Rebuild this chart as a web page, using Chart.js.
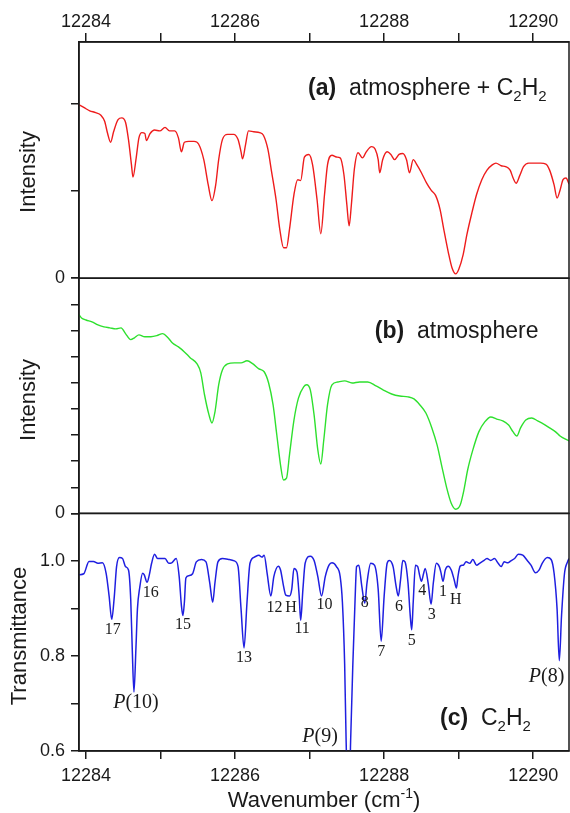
<!DOCTYPE html>
<html>
<head>
<meta charset="utf-8">
<script src="https://cdn.jsdelivr.net/npm/chart.js@4.4.1/dist/chart.umd.min.js"></script>
<style>
  html, body { margin: 0; padding: 0; background: #fff; }
  #wrap { width: 570px; height: 813px; }
</style>
</head>
<body>
<div id="wrap"><canvas id="spectra" width="570" height="813"></canvas></div>
<script>
const wnMin = 12283.906;
const wnMax = 12290.48;
const wnTicks = [12284, 12285, 12286, 12287, 12288, 12289, 12290];
const panelATicks = [0, 1, 2];
const panelBTicks = [0, 1, 2, 3, 4, 5, 6, 7, 8, 9];
const panelCTicks = [0.6, 0.7, 0.8, 0.9, 1.0, 1.1];

// (a) atmosphere + C2H2
const atmC2h2Wn = [12283.906, 12283.97, 12284.05, 12284.13, 12284.20, 12284.25, 12284.29, 12284.33, 12284.37, 12284.43,
  12284.48, 12284.53, 12284.57, 12284.61, 12284.63, 12284.67, 12284.71, 12284.75, 12284.79, 12284.81,
  12284.86, 12284.92, 12284.99, 12285.06, 12285.12, 12285.19, 12285.24, 12285.28, 12285.32, 12285.38,
  12285.45, 12285.51, 12285.58, 12285.64, 12285.69, 12285.74, 12285.78, 12285.83, 12285.90, 12285.98,
  12286.04, 12286.08, 12286.10, 12286.14, 12286.18, 12286.25, 12286.33, 12286.38, 12286.44, 12286.49,
  12286.55, 12286.60, 12286.65, 12286.69, 12286.73, 12286.79, 12286.84, 12286.88, 12286.93, 12286.99,
  12287.04, 12287.10, 12287.15, 12287.20, 12287.24, 12287.30, 12287.36, 12287.41, 12287.46, 12287.50,
  12287.53, 12287.56, 12287.60, 12287.65, 12287.71, 12287.76, 12287.83, 12287.88, 12287.92, 12287.94,
  12287.98, 12288.04, 12288.09, 12288.14, 12288.20, 12288.25, 12288.30, 12288.34, 12288.39, 12288.44,
  12288.50, 12288.57, 12288.63, 12288.69, 12288.75, 12288.80, 12288.86, 12288.91, 12288.96, 12289.00,
  12289.06, 12289.11, 12289.18, 12289.24, 12289.31, 12289.38, 12289.45, 12289.50, 12289.57, 12289.63,
  12289.69, 12289.73, 12289.77, 12289.82, 12289.87, 12289.94, 12290.02, 12290.10, 12290.17, 12290.22,
  12290.28, 12290.32, 12290.36, 12290.40, 12290.44, 12290.48];
const atmC2h2Int = [1.99, 1.96, 1.92, 1.90, 1.87, 1.80, 1.66, 1.56, 1.68, 1.82,
  1.84, 1.79, 1.59, 1.30, 1.16, 1.36, 1.61, 1.67, 1.66, 1.58,
  1.66, 1.70, 1.69, 1.73, 1.69, 1.69, 1.61, 1.45, 1.56, 1.57,
  1.57, 1.54, 1.36, 1.07, 0.89, 1.07, 1.36, 1.59, 1.65, 1.65,
  1.59, 1.45, 1.37, 1.53, 1.69, 1.68, 1.67, 1.64, 1.48, 1.22,
  0.90, 0.56, 0.35, 0.35, 0.56, 0.96, 1.13, 1.12, 1.39, 1.42,
  1.30, 0.90, 0.51, 0.96, 1.30, 1.41, 1.39, 1.38, 1.19, 0.84,
  0.60, 0.84, 1.25, 1.44, 1.38, 1.45, 1.51, 1.48, 1.36, 1.21,
  1.36, 1.45, 1.42, 1.36, 1.42, 1.43, 1.36, 1.21, 1.36, 1.30,
  1.21, 1.09, 1.01, 0.95, 0.79, 0.56, 0.30, 0.12, 0.05, 0.10,
  0.27, 0.50, 0.76, 0.96, 1.13, 1.24, 1.30, 1.32, 1.29, 1.28,
  1.24, 1.15, 1.09, 1.18, 1.28, 1.32, 1.32, 1.32, 1.31, 1.24,
  1.07, 0.92, 1.01, 1.13, 1.15, 1.08];

// (b) atmosphere
const atmWn = [12283.906, 12283.94, 12284.00, 12284.08, 12284.16, 12284.24, 12284.32, 12284.40, 12284.47, 12284.53,
  12284.60, 12284.65, 12284.71, 12284.79, 12284.87, 12284.95, 12285.03, 12285.10, 12285.16, 12285.24,
  12285.32, 12285.40, 12285.49, 12285.54, 12285.59, 12285.65, 12285.69, 12285.73, 12285.78, 12285.83,
  12285.90, 12285.99, 12286.08, 12286.16, 12286.24, 12286.32, 12286.39, 12286.45, 12286.51, 12286.56,
  12286.61, 12286.65, 12286.69, 12286.73, 12286.79, 12286.85, 12286.92, 12286.96, 12287.01, 12287.06,
  12287.11, 12287.15, 12287.19, 12287.24, 12287.30, 12287.38, 12287.47, 12287.57, 12287.67, 12287.78,
  12287.89, 12287.99, 12288.10, 12288.21, 12288.32, 12288.40, 12288.48, 12288.56, 12288.64, 12288.71,
  12288.77, 12288.84, 12288.90, 12288.96, 12289.02, 12289.07, 12289.12, 12289.19, 12289.27, 12289.35,
  12289.43, 12289.51, 12289.59, 12289.67, 12289.73, 12289.78, 12289.83, 12289.90, 12289.98, 12290.06,
  12290.14, 12290.22, 12290.30, 12290.36, 12290.48];
const atmInt = [7.60, 7.48, 7.40, 7.33, 7.21, 7.14, 7.10, 7.06, 7.10, 6.88,
  6.65, 6.72, 6.83, 6.76, 6.76, 6.80, 6.88, 6.72, 6.52, 6.37,
  6.18, 5.95, 5.72, 5.38, 4.54, 3.77, 3.46, 3.88, 4.92, 5.49,
  5.72, 5.76, 5.76, 5.84, 5.72, 5.53, 5.42, 4.99, 4.15, 3.00,
  1.85, 1.28, 1.35, 2.24, 3.57, 4.41, 4.84, 4.92, 4.72, 3.77,
  2.43, 1.89, 2.81, 4.15, 4.92, 5.03, 5.07, 4.99, 5.03, 5.03,
  4.88, 4.72, 4.57, 4.49, 4.46, 4.38, 4.15, 3.84, 3.27, 2.62,
  1.85, 0.97, 0.39, 0.16, 0.32, 0.89, 1.66, 2.43, 3.12, 3.50,
  3.69, 3.61, 3.54, 3.38, 3.12, 2.96, 3.27, 3.57, 3.65, 3.54,
  3.42, 3.27, 3.12, 2.96, 2.77];

// (c) C2H2 transmittance
const c2h2Wn = [12283.906, 12283.97, 12284.04, 12284.10, 12284.16, 12284.22, 12284.27, 12284.31, 12284.345, 12284.38,
  12284.41, 12284.45, 12284.49, 12284.53, 12284.57, 12284.60, 12284.62, 12284.643, 12284.67, 12284.69,
  12284.72, 12284.76, 12284.78, 12284.82, 12284.85, 12284.88, 12284.92, 12284.96, 12285.01, 12285.06,
  12285.11, 12285.15, 12285.21, 12285.25, 12285.28, 12285.30, 12285.32, 12285.34, 12285.38, 12285.43,
  12285.48, 12285.55, 12285.61, 12285.66, 12285.70, 12285.73, 12285.77, 12285.83, 12285.92, 12285.99,
  12286.04, 12286.08, 12286.12, 12286.16, 12286.20, 12286.26, 12286.32, 12286.36, 12286.39, 12286.43,
  12286.48, 12286.52, 12286.58, 12286.61, 12286.65, 12286.68, 12286.73, 12286.76, 12286.79, 12286.83,
  12286.86, 12286.88, 12286.91, 12286.94, 12287.01, 12287.06, 12287.11, 12287.16, 12287.21, 12287.26,
  12287.30, 12287.36, 12287.41, 12287.44, 12287.47, 12287.49, 12287.525, 12287.55, 12287.58, 12287.61,
  12287.63, 12287.66, 12287.70, 12287.74, 12287.77, 12287.82, 12287.87, 12287.92, 12287.96, 12288.00,
  12288.04, 12288.07, 12288.12, 12288.16, 12288.19, 12288.22, 12288.25, 12288.28, 12288.32, 12288.35,
  12288.37, 12288.39, 12288.42, 12288.45, 12288.48, 12288.50, 12288.53, 12288.55, 12288.59, 12288.63,
  12288.66, 12288.70, 12288.74, 12288.76, 12288.79, 12288.82, 12288.86, 12288.90, 12288.94, 12288.97,
  12288.99, 12289.02, 12289.06, 12289.10, 12289.15, 12289.19, 12289.24, 12289.28, 12289.33, 12289.38,
  12289.43, 12289.48, 12289.53, 12289.57, 12289.61, 12289.66, 12289.70, 12289.75, 12289.80, 12289.86,
  12289.92, 12289.97, 12290.03, 12290.08, 12290.12, 12290.19, 12290.24, 12290.28, 12290.32, 12290.35,
  12290.38, 12290.42, 12290.46, 12290.48];
const c2h2Trans = [0.971, 0.973, 0.999, 0.999, 0.995, 0.996, 0.974, 0.926, 0.877, 0.926,
  0.988, 1.007, 1.005, 0.988, 0.981, 0.919, 0.817, 0.724, 0.817, 0.899,
  0.943, 0.974, 0.971, 0.955, 0.971, 0.995, 1.014, 1.005, 1.005, 1.005,
  0.995, 0.996, 1.005, 0.967, 0.906, 0.885, 0.913, 0.964, 0.969, 0.973,
  0.998, 1.003, 0.998, 0.954, 0.913, 0.954, 0.998, 1.005, 1.003, 1.000,
  0.988, 0.899, 0.817, 0.913, 0.995, 1.008, 1.012, 1.008, 1.012, 0.974,
  0.926, 0.967, 0.989, 0.981, 0.947, 0.928, 0.926, 0.940, 0.984, 0.977,
  0.926, 0.875, 0.940, 0.995, 1.010, 1.001, 0.967, 0.926, 0.967, 0.991,
  0.996, 0.988, 0.967, 0.913, 0.783, 0.620, 0.450, 0.620, 0.783, 0.919,
  0.988, 0.991, 0.947, 0.911, 0.954, 0.995, 0.991, 0.940, 0.831, 0.926,
  0.995, 1.001, 0.988, 0.947, 0.926, 0.960, 1.001, 0.998, 0.954, 0.885,
  0.855, 0.913, 0.991, 0.988, 0.967, 0.957, 0.974, 0.984, 0.954, 0.909,
  0.954, 0.995, 0.988, 0.977, 0.957, 0.981, 0.989, 0.981, 0.960, 0.943,
  0.967, 0.989, 0.991, 0.998, 0.995, 1.003, 0.991, 0.995, 1.000, 1.005,
  1.001, 1.005, 0.995, 0.988, 0.998, 0.996, 1.000, 1.005, 1.014, 1.012,
  1.001, 0.991, 0.975, 0.981, 0.995, 1.007, 1.003, 0.974, 0.899, 0.790,
  0.885, 0.974, 0.998, 1.005];

// line labels in panel (c)
const lineLabels = ['17', '16', '15', '13', '12', 'H', '11', '10', '8', '7', '6', '5', '4', '3', '1', 'H'];
const lineLabelWn = [12284.36, 12284.87, 12285.30, 12286.12, 12286.53, 12286.75, 12286.90, 12287.20, 12287.74, 12287.96,
  12288.20, 12288.37, 12288.51, 12288.64, 12288.79, 12288.96];
const lineLabelT = [0.855, 0.932, 0.866, 0.797, 0.902, 0.902, 0.858, 0.907, 0.911, 0.808,
  0.904, 0.831, 0.937, 0.887, 0.934, 0.919];

const branchLabels = ['10', '9', '8'];
const branchWn = [12284.67, 12287.14, 12290.18];
const branchT = [0.702, 0.629, 0.757];

const SANS = '"Liberation Sans", Arial, sans-serif';
const SERIF = '"Liberation Serif", "Times New Roman", serif';
const INK = '#1a1a1a';

function toPoints(xs, ys) {
    return xs.map((x, i) => ({ x, y: ys[i] }));
}

function drawRuns(ctx, x, y, runs) {
    let cx = x;
    runs.forEach(r => {
        ctx.font = r.font;
        ctx.fillText(r.text, cx, y + (r.dy || 0));
        cx += ctx.measureText(r.text).width;
    });
}

const decor = {
    id: 'decor',
    afterDraw(chart) {
        const { ctx, chartArea, scales } = chart;
        const { x, ya, yb, yc } = scales;
        ctx.save();

        // panel frames
        ctx.strokeStyle = INK;
        ctx.lineWidth = 1.5;
        [ya, yb, yc].forEach(s => {
            ctx.strokeRect(chartArea.left, s.top, chartArea.right - chartArea.left, s.bottom - s.top);
        });

        ctx.fillStyle = INK;
        ctx.textBaseline = 'alphabetic';
        ctx.textAlign = 'left';

        // panel captions
        const big = `23px ${SANS}`;
        const bold = `bold 23px ${SANS}`;
        const sub = `15px ${SANS}`;
        drawRuns(ctx, x.getPixelForValue(12286.98), ya.getPixelForValue(2.19) + 8, [
            { text: '(a)', font: bold }, { text: '  atmosphere + C', font: big },
            { text: '2', font: sub, dy: 6 }, { text: 'H', font: big }, { text: '2', font: sub, dy: 6 },
        ]);
        drawRuns(ctx, x.getPixelForValue(12287.875), yb.getPixelForValue(7.02) + 8, [
            { text: '(b)', font: bold }, { text: '  atmosphere', font: big },
        ]);
        drawRuns(ctx, x.getPixelForValue(12288.75), yc.getPixelForValue(0.671) + 8, [
            { text: '(c)', font: bold }, { text: '  C', font: big },
            { text: '2', font: sub, dy: 6 }, { text: 'H', font: big }, { text: '2', font: sub, dy: 6 },
        ]);

        // line labels
        ctx.textAlign = 'center';
        ctx.textBaseline = 'middle';
        ctx.font = `16px ${SERIF}`;
        lineLabels.forEach((t, i) => {
            ctx.fillText(t, x.getPixelForValue(lineLabelWn[i]), yc.getPixelForValue(lineLabelT[i]));
        });
        branchLabels.forEach((t, i) => {
            const cx = x.getPixelForValue(branchWn[i]);
            const cy = yc.getPixelForValue(branchT[i]);
            ctx.font = `italic 20px ${SERIF}`;
            const wP = ctx.measureText('P').width;
            ctx.font = `20px ${SERIF}`;
            const wR = ctx.measureText(`(${t})`).width;
            const left = cx - (wP + wR) / 2;
            ctx.textAlign = 'left';
            ctx.font = `italic 20px ${SERIF}`;
            ctx.fillText('P', left, cy);
            ctx.font = `20px ${SERIF}`;
            ctx.fillText(`(${t})`, left + wP, cy);
        });

        // axis titles
        ctx.font = `22px ${SANS}`;
        ctx.textAlign = 'center';
        ctx.textBaseline = 'middle';
        const vTitle = (text, cx, cy) => {
            ctx.save();
            ctx.translate(cx, cy);
            ctx.rotate(-Math.PI / 2);
            ctx.fillText(text, 0, 0);
            ctx.restore();
        };
        vTitle('Intensity', 29, 172);
        vTitle('Intensity', 29, 400);
        vTitle('Transmittance', 20, 636);

        // x title with superscript
        ctx.textAlign = 'left';
        ctx.textBaseline = 'alphabetic';
        const main1 = 'Wavenumber (cm';
        const sup = '-1';
        ctx.font = `22px ${SANS}`;
        const w1 = ctx.measureText(main1).width;
        const w3 = ctx.measureText(')').width;
        ctx.font = `14px ${SANS}`;
        const w2 = ctx.measureText(sup).width;
        const startX = (chartArea.left + chartArea.right) / 2 - (w1 + w2 + w3) / 2;
        drawRuns(ctx, startX, 807, [
            { text: main1, font: `22px ${SANS}` },
            { text: sup, font: `14px ${SANS}`, dy: -9 },
            { text: ')', font: `22px ${SANS}` },
        ]);

        ctx.restore();
    }
};

const tickFont = { family: SANS, size: 18 };

function fixedTicks(values) {
    return s => { s.ticks = values.map(value => ({ value })); };
}

function yAxis(min, max, values, weight, stackWeight, label) {
    return {
        type: 'linear',
        position: 'left',
        stack: 'panels',
        stackWeight,
        weight,
        min, max,
        border: { display: true, color: INK, width: 1.5 },
        grid: { drawOnChartArea: false, color: INK, lineWidth: 1.5, tickLength: 8 },
        ticks: { autoSkip: false, font: tickFont, color: INK, padding: 6, callback: label },
        afterBuildTicks: fixedTicks(values),
        afterFit: s => { s.width = 79; },
    };
}

function xAxis(position, tickLength, padding, height) {
    return {
        type: 'linear', position, min: wnMin, max: wnMax,
        border: { display: true, color: INK, width: 1.5 },
        grid: { drawOnChartArea: false, color: INK, lineWidth: 1.5, tickLength },
        ticks: {
            autoSkip: false, font: tickFont, color: INK, padding, maxRotation: 0,
            callback: v => (v % 2 === 0 ? String(v) : ''),
        },
        afterBuildTicks: fixedTicks(wnTicks),
        afterFit: s => { s.height = height; },
    };
}

new Chart(document.getElementById('spectra'), {
    type: 'line',
    data: {
        datasets: [
            {
                data: toPoints(atmC2h2Wn, atmC2h2Int), xAxisID: 'x', yAxisID: 'ya',
                borderColor: '#ee1c1c', borderWidth: 1.4, pointRadius: 0, cubicInterpolationMode: 'monotone',
            },
            {
                data: toPoints(atmWn, atmInt), xAxisID: 'x', yAxisID: 'yb',
                borderColor: '#2ee02e', borderWidth: 1.4, pointRadius: 0, cubicInterpolationMode: 'monotone',
            },
            {
                data: toPoints(c2h2Wn, c2h2Trans), xAxisID: 'x', yAxisID: 'yc',
                borderColor: '#1f1fe0', borderWidth: 1.5, pointRadius: 0, cubicInterpolationMode: 'monotone',
            },
        ],
    },
    options: {
        responsive: false,
        animation: false,
        devicePixelRatio: 1,
        layout: { padding: { left: 0, right: 1, top: 0, bottom: 0 } },
        plugins: { legend: { display: false }, tooltip: { enabled: false } },
        scales: {
            x: xAxis('bottom', 8, 6, 62),
            xTop: xAxis('top', 9, 0, 42),
            ya: yAxis(0, 2.71, panelATicks, 3, 236, v => (v === 0 ? '0' : '')),
            yb: yAxis(0, 9, panelBTicks, 2, 235, v => (v === 0 ? '0' : '')),
            yc: yAxis(0.6, 1.1, panelCTicks, 1, 237.4, v => {
                const k = Math.round(v * 10);
                return k % 2 === 0 && k <= 10 ? (k / 10).toFixed(1) : '';
            }),
        },
    },
    plugins: [decor],
});
</script>
</body>
</html>
